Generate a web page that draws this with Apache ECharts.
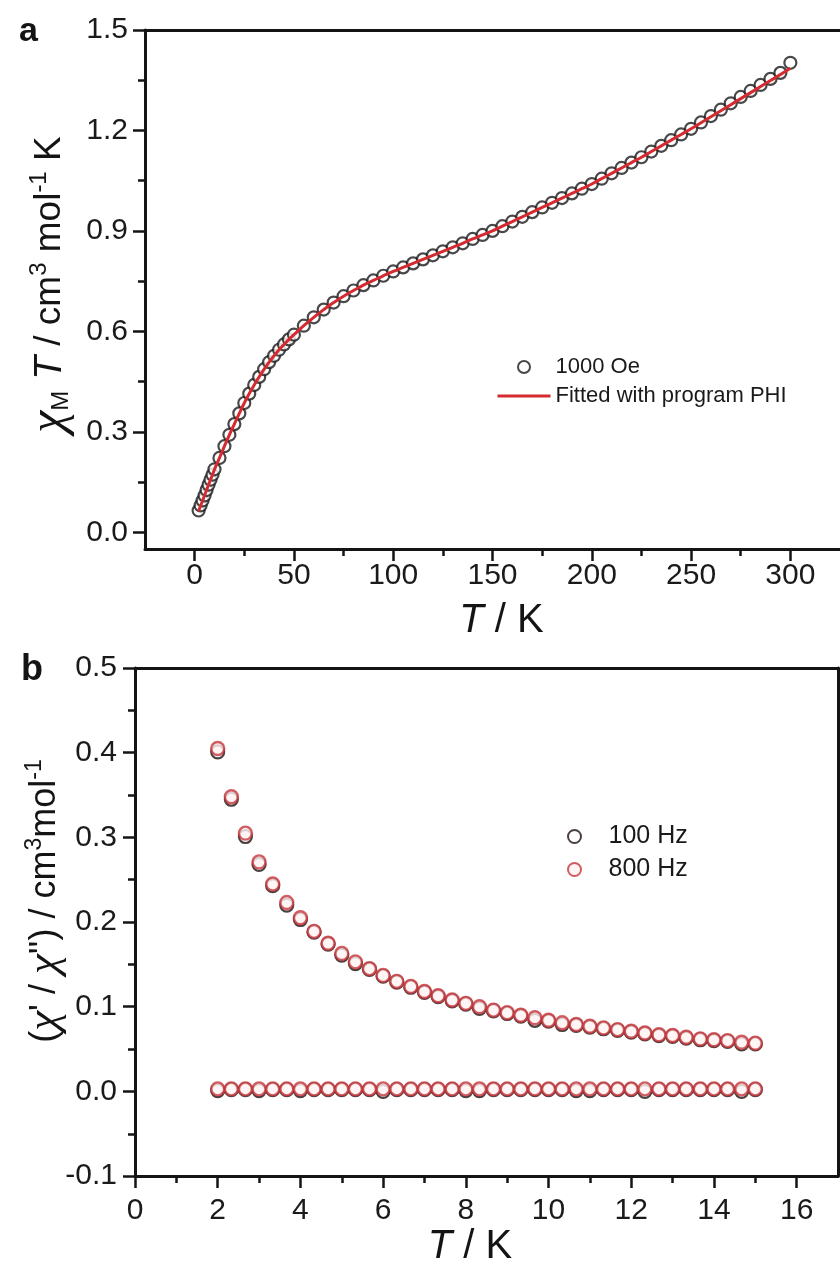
<!DOCTYPE html>
<html><head><meta charset="utf-8">
<script src="https://cdn.jsdelivr.net/npm/echarts@6/dist/echarts.min.js"></script>
<style>html,body{margin:0;padding:0;background:#fff}#c{width:840px;height:1268px}</style>
</head><body><div id="c"></div>
<script>
// ---------- Panel a data ----------
const tempA = [2,3,4,5,6,7,8,9,10,12.5,15,17.5,20,22.5,25,27.5,30,32.5,35,37.5,40,42.5,45,47.5,50,
  55,60,65,70,75,80,85,90,95,100,105,110,115,120,125,130,135,140,145,150,155,160,165,170,175,180,185,190,195,200,
  205,210,215,220,225,230,235,240,245,250,255,260,265,270,275,280,285,290,295,300];
const chiTA = [0.065,0.080,0.095,0.110,0.126,0.142,0.157,0.172,0.188,0.222,0.257,0.291,0.323,0.355,0.386,0.414,0.440,0.464,0.487,0.508,0.527,0.545,0.561,0.576,0.590,
  0.617,0.642,0.665,0.686,0.705,0.722,0.738,0.752,0.766,0.779,0.791,0.803,0.815,0.827,0.839,0.851,0.863,0.876,0.888,0.900,0.914,0.928,0.942,0.956,0.970,0.984,0.998,1.012,1.026,1.040,
  1.056,1.072,1.088,1.104,1.120,1.137,1.154,1.171,1.188,1.205,1.224,1.243,1.262,1.281,1.300,1.318,1.336,1.354,1.372,1.402];
const fitA = [0.063,0.079,0.094,0.110,0.126,0.142,0.157,0.172,0.188,0.222,0.257,0.291,0.323,0.355,0.386,0.414,0.440,0.464,0.487,0.508,0.527,0.545,0.561,0.576,0.590,
  0.617,0.642,0.665,0.686,0.705,0.722,0.738,0.752,0.766,0.779,0.791,0.803,0.815,0.827,0.839,0.851,0.863,0.876,0.888,0.900,0.914,0.928,0.942,0.956,0.970,0.984,0.998,1.012,1.026,1.040,
  1.056,1.072,1.088,1.104,1.120,1.137,1.154,1.171,1.188,1.205,1.223,1.241,1.259,1.277,1.295,1.313,1.331,1.349,1.367,1.386];
const xTicksA = [0,50,100,150,200,250,300];
const xMinorA = [25,75,125,175,225,275];
const yTicksA = [0,0.3,0.6,0.9,1.2,1.5];
const yMinorA = [0.15,0.45,0.75,1.05,1.35];

// ---------- Panel b data ----------
const tempB = [2,2.33,2.67,3,3.33,3.67,4,4.33,4.67,5,5.33,5.67,6,6.33,6.67,7,7.33,7.67,8,8.33,8.67,9,9.33,9.67,10,
  10.33,10.67,11,11.33,11.67,12,12.33,12.67,13,13.33,13.67,14,14.33,14.67,15];
const chi1_100 = [0.401,0.345,0.301,0.268,0.243,0.220,0.203,0.188,0.174,0.161,0.151,0.144,0.136,0.129,0.123,0.117,0.112,0.107,0.103,0.098,0.095,0.092,0.089,0.084,0.083,
  0.079,0.078,0.076,0.074,0.072,0.070,0.068,0.066,0.065,0.063,0.061,0.060,0.059,0.056,0.056];
const chi1_800 = [0.405,0.348,0.305,0.271,0.245,0.223,0.205,0.189,0.175,0.163,0.153,0.145,0.137,0.130,0.124,0.118,0.113,0.108,0.104,0.100,0.096,0.093,0.090,0.087,0.084,
  0.081,0.079,0.077,0.075,0.073,0.071,0.069,0.067,0.066,0.064,0.062,0.061,0.060,0.058,0.057];
const chi2_100 = [0.001,0.002,0.002,0.001,0.002,0.002,0.001,0.002,0.002,0.002,0.002,0.002,0.000,0.002,0.002,0.002,0.002,0.002,0.001,0.001,0.002,0.002,0.002,0.002,0.002,
  0.002,0.001,0.001,0.002,0.002,0.002,0.000,0.002,0.002,0.002,0.002,0.002,0.002,0.000,0.002];
const chi2_800 = [0.003,0.003,0.003,0.003,0.003,0.003,0.003,0.003,0.003,0.003,0.003,0.003,0.003,0.003,0.003,0.003,0.003,0.003,0.003,0.003,0.003,0.003,0.003,0.003,0.003,
  0.003,0.003,0.003,0.003,0.003,0.003,0.003,0.003,0.003,0.003,0.003,0.003,0.003,0.003,0.003];
const xTicksB = [0,2,4,6,8,10,12,14,16];
const xMinorB = [1,3,5,7,9,11,13,15];
const yTicksB = [-0.1,0,0.1,0.2,0.3,0.4,0.5];
const yMinorB = [-0.05,0.05,0.15,0.25,0.35,0.45];

// ---------- styles ----------
const FONT = '"Liberation Sans", Arial, Helvetica, sans-serif';
const SERIF = '"Liberation Serif", "Times New Roman", serif';
const INK = '#141414';
const axLine = {show:true, onZero:false, lineStyle:{color:INK, width:3}};
const noLine = {show:false, onZero:false};
const majTick = (vals) => ({show:true, length:12, customValues:vals, lineStyle:{color:INK, width:2.5}});
const minTick = (vals) => ({show:true, length:7, customValues:vals, lineStyle:{color:INK, width:2.5}});
const lbl = (vals, margin, fmt) => ({show:true, customValues:vals, margin:margin, fontSize:30, color:'#1a1a1a', fontFamily:FONT, formatter:fmt});
const hide = {show:false};
const richA = {
  n:{fontSize:37, fontFamily:FONT, color:INK, lineHeight:46},
  c:{fontSize:50, fontFamily:SERIF, fontStyle:'italic', color:INK, lineHeight:46},
  t:{fontSize:39, fontFamily:FONT, fontStyle:'italic', color:INK, lineHeight:46},
  s:{fontSize:24, fontFamily:FONT, color:INK, lineHeight:24, verticalAlign:'bottom'},
  p:{fontSize:24, fontFamily:FONT, color:INK, lineHeight:24, verticalAlign:'top'}
};
const richB = {
  n:{fontSize:36, fontFamily:FONT, color:INK, lineHeight:44},
  c:{fontSize:45, fontFamily:SERIF, fontStyle:'italic', color:INK, lineHeight:44},
  p:{fontSize:23, fontFamily:FONT, color:INK, lineHeight:23, verticalAlign:'top'}
};
const xRich = {
  i:{fontSize:40, fontFamily:FONT, fontStyle:'italic', color:INK, lineHeight:44},
  n:{fontSize:40, fontFamily:FONT, color:INK, lineHeight:44}
};

function pairs(xs, ys){ return xs.map((x,i)=>[x, ys[i]]); }

const chart = echarts.init(document.getElementById('c'));
chart.setOption({
  backgroundColor:'#fff',
  animation:false,
  title:[
    {text:'a', left:14, top:10, textStyle:{fontSize:34, fontWeight:'bold', color:INK, fontFamily:FONT}},
    {text:'b', left:16, top:647, textStyle:{fontSize:36, fontWeight:'bold', color:INK, fontFamily:FONT}}
  ],
  grid:[
    {left:145, top:30, right:-9, bottom:719},
    {left:135, top:668, right:2, bottom:80}
  ],
  legend:[
    {data:['1000 Oe', {name:'Fitted with program PHI', itemStyle:{opacity:0}, lineStyle:{width:3, color:'#d42a30'}}],
     orient:'vertical', left:496, top:356, padding:0,
     itemWidth:53, itemHeight:12, itemGap:7,
     textStyle:{fontSize:22, lineHeight:22, color:'#1a1a1a', fontFamily:FONT}},
    {data:['100 Hz','800 Hz'], orient:'vertical', left:567, top:824, padding:0,
     itemWidth:14, itemHeight:13, itemGap:8,
     textStyle:{fontSize:25, lineHeight:25, color:'#1a1a1a', fontFamily:FONT, padding:[0,0,0,22]}}
  ],
  xAxis:[
    {gridIndex:0, type:'value', position:'bottom', min:-25, max:325,
     axisLine:axLine, axisTick:majTick(xTicksA), minorTick:hide, splitLine:hide,
     axisLabel:lbl(xTicksA, 12, v=>String(v)),
     name:'{i|T}{n| / K}', nameLocation:'middle', nameGap:50,
     nameTextStyle:{rich:xRich, padding:[0,0,0,18]}},
    {gridIndex:0, type:'value', position:'bottom', min:-25, max:325,
     axisLine:noLine, axisTick:minTick(xMinorA), axisLabel:hide, splitLine:hide},
    {gridIndex:0, type:'value', position:'top', min:-25, max:325,
     axisLine:axLine, axisTick:hide, axisLabel:hide, splitLine:hide},
    {gridIndex:1, type:'value', position:'bottom', min:0, max:17,
     axisLine:axLine, axisTick:majTick(xTicksB), minorTick:hide, splitLine:hide,
     axisLabel:lbl(xTicksB, 20, v=>String(v)),
     name:'{i|T}{n| / K}', nameLocation:'middle', nameGap:46,
     nameTextStyle:{rich:xRich, padding:[0,33,0,0]}},
    {gridIndex:1, type:'value', position:'bottom', min:0, max:17,
     axisLine:noLine, axisTick:minTick(xMinorB), axisLabel:hide, splitLine:hide},
    {gridIndex:1, type:'value', position:'top', min:0, max:17,
     axisLine:axLine, axisTick:hide, axisLabel:hide, splitLine:hide}
  ],
  yAxis:[
    {gridIndex:0, type:'value', position:'left', min:-0.05, max:1.5,
     axisLine:axLine, axisTick:majTick(yTicksA), minorTick:hide, splitLine:hide,
     axisLabel:lbl(yTicksA, 17, v=>v.toFixed(1)),
     name:'{c|χ}{s|M}{t| T}{n| / cm}{p|3}{n| mol}{p|-1}{n| K}', nameLocation:'middle', nameRotate:90, nameGap:72,
     nameMoveOverlap:false,
     nameTextStyle:{rich:richA, padding:[0,0,0,10]}},
    {gridIndex:0, type:'value', position:'left', min:-0.05, max:1.5,
     axisLine:noLine, axisTick:minTick(yMinorA), axisLabel:hide, splitLine:hide},
    {gridIndex:1, type:'value', position:'left', min:-0.1, max:0.5,
     axisLine:axLine, axisTick:majTick(yTicksB), minorTick:hide, splitLine:hide,
     axisLabel:lbl(yTicksB, 18, v=>v.toFixed(1)),
     name:"{n|(}{c|χ}{n|' / }{c|χ}{n|'') / cm}{p|3}{n|mol}{p|-1}", nameLocation:'middle', nameRotate:90, nameGap:68,
     nameMoveOverlap:false,
     nameTextStyle:{rich:richB, padding:[0,0,0,42]}},
    {gridIndex:1, type:'value', position:'left', min:-0.1, max:0.5,
     axisLine:noLine, axisTick:minTick(yMinorB), axisLabel:hide, splitLine:hide},
    {gridIndex:1, type:'value', position:'right', min:-0.1, max:0.5,
     axisLine:axLine, axisTick:hide, axisLabel:hide, splitLine:hide}
  ],
  series:[
    {name:'1000 Oe', type:'scatter', xAxisIndex:0, yAxisIndex:0, data:pairs(tempA, chiTA),
     symbol:'circle', symbolSize:12, z:2,
     itemStyle:{color:'#ffffff', borderColor:'#1a1a1a', borderWidth:2.2}},
    {name:'Fitted with program PHI', type:'line', xAxisIndex:0, yAxisIndex:0, data:pairs(tempA, fitA),
     symbol:'none', smooth:true, z:3,
     lineStyle:{color:'#d42a30', width:3}, itemStyle:{color:'#d42a30'}},
    {name:'100 Hz', type:'scatter', xAxisIndex:3, yAxisIndex:2,
     data:pairs(tempB, chi1_100).concat(pairs(tempB, chi2_100)),
     symbol:'circle', symbolSize:13, z:2,
     itemStyle:{color:'#ffffff', borderColor:'#1e1010', borderWidth:2.2}},
    {name:'800 Hz', type:'scatter', xAxisIndex:3, yAxisIndex:2,
     data:pairs(tempB, chi1_800).concat(pairs(tempB, chi2_800)),
     symbol:'circle', symbolSize:13, z:3,
     itemStyle:{color:'#fff3f2', borderColor:'#c7353b', borderWidth:2.4}}
  ]
});
</script>
</body></html>
